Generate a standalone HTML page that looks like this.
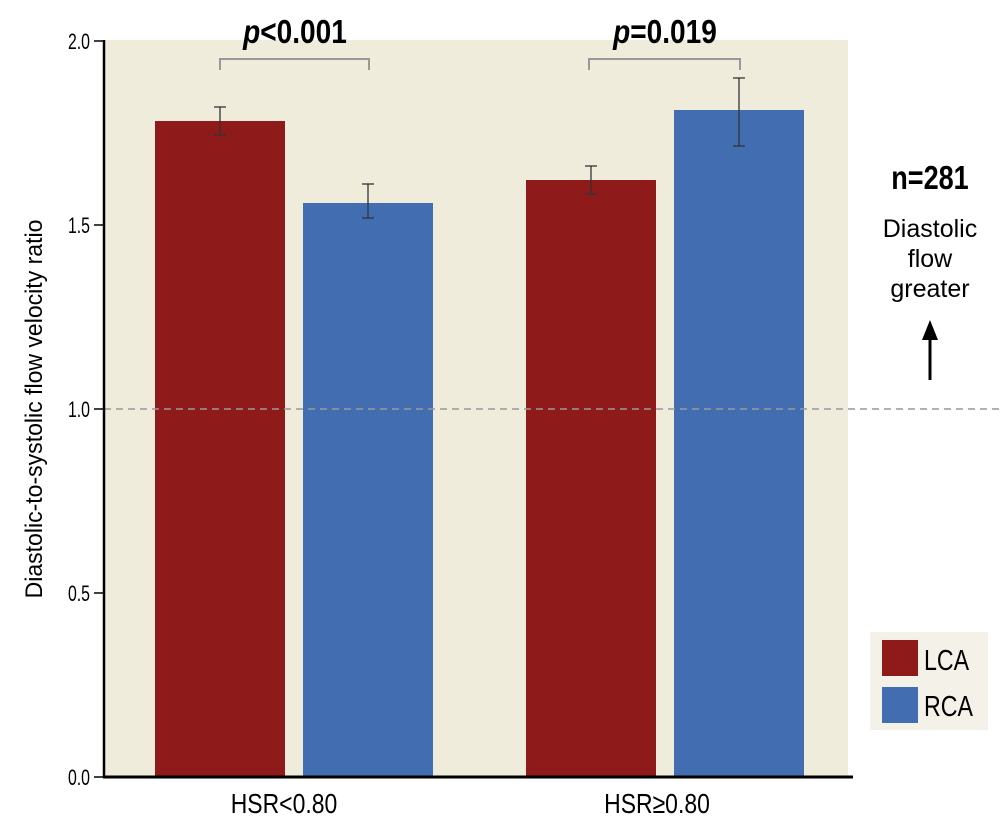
<!DOCTYPE html>
<html><head><style>
body{margin:0;background:#fff;}
svg text{font-family:"Liberation Sans",sans-serif;}
</style></head><body>
<svg width="1005" height="827" viewBox="0 0 1005 827" xmlns="http://www.w3.org/2000/svg">
<rect x="104" y="40" width="744" height="737" fill="#f0ecdc"/>
<rect x="155" y="121" width="130" height="656" fill="#8e1b19"/>
<rect x="303" y="203" width="130" height="574" fill="#426eb1"/>
<rect x="526" y="180" width="130" height="597" fill="#8e1b19"/>
<rect x="674" y="110" width="130" height="667" fill="#426eb1"/>
<line x1="104" y1="409" x2="1000" y2="409" stroke="#999" stroke-width="1.5" stroke-dasharray="7,5"/>
<g stroke="#333" stroke-width="1.3">
<line x1="220" y1="107" x2="220" y2="135"/><line x1="214" y1="107" x2="226" y2="107"/><line x1="214" y1="135" x2="226" y2="135"/>
<line x1="368" y1="184" x2="368" y2="218"/><line x1="362" y1="184" x2="374" y2="184"/><line x1="362" y1="218" x2="374" y2="218"/>
<line x1="591" y1="166" x2="591" y2="194"/><line x1="585" y1="166" x2="597" y2="166"/><line x1="585" y1="194" x2="597" y2="194"/>
<line x1="739" y1="78" x2="739" y2="146"/><line x1="733" y1="78" x2="745" y2="78"/><line x1="733" y1="146" x2="745" y2="146"/>
</g>
<g stroke="#999" stroke-width="2" fill="none">
<path d="M220 70 V59 H369 V70"/>
<path d="M589 70 V59 H740 V70"/>
</g>
<text x="295" y="43" font-size="33" font-weight="bold" text-anchor="middle" transform="translate(295 0) scale(0.85 1) translate(-295 0)"><tspan font-style="italic">p</tspan>&lt;0.001</text>
<text x="665" y="43" font-size="33" font-weight="bold" text-anchor="middle" transform="translate(665 0) scale(0.85 1) translate(-665 0)"><tspan font-style="italic">p</tspan>=0.019</text>
<line x1="104" y1="40" x2="104" y2="778" stroke="#000" stroke-width="2.5"/>
<line x1="103" y1="777" x2="853" y2="777" stroke="#000" stroke-width="3"/>
<g stroke="#000" stroke-width="1.5">
<line x1="94" y1="41" x2="104" y2="41"/><line x1="94" y1="225" x2="104" y2="225"/><line x1="94" y1="409" x2="104" y2="409"/><line x1="94" y1="593" x2="104" y2="593"/><line x1="94" y1="777" x2="104" y2="777"/>
</g>
<g font-size="22" text-anchor="end">
<text x="90" y="49" transform="translate(90 0) scale(0.72 1) translate(-90 0)">2.0</text>
<text x="90" y="233" transform="translate(90 0) scale(0.72 1) translate(-90 0)">1.5</text>
<text x="90" y="417" transform="translate(90 0) scale(0.72 1) translate(-90 0)">1.0</text>
<text x="90" y="601" transform="translate(90 0) scale(0.72 1) translate(-90 0)">0.5</text>
<text x="90" y="785" transform="translate(90 0) scale(0.72 1) translate(-90 0)">0.0</text>
</g>
<text x="0" y="0" font-size="24" text-anchor="middle" transform="translate(42 409) rotate(-90) scale(0.96 1)">Diastolic-to-systolic flow velocity ratio</text>
<g font-size="28" text-anchor="middle">
<text x="284" y="813" transform="translate(284 0) scale(0.82 1) translate(-284 0)">HSR&lt;0.80</text>
<text x="657" y="813" transform="translate(657 0) scale(0.82 1) translate(-657 0)">HSR≥0.80</text>
</g>
<text x="930" y="189" font-size="33" font-weight="bold" text-anchor="middle" transform="translate(930 0) scale(0.82 1) translate(-930 0)">n=281</text>
<g font-size="25" text-anchor="middle">
<text x="930" y="237">Diastolic</text>
<text x="930" y="267">flow</text>
<text x="930" y="297">greater</text>
</g>
<line x1="930" y1="380" x2="930" y2="335" stroke="#000" stroke-width="3"/>
<polygon points="930,320 922,340 938,340" fill="#000"/>
<rect x="870" y="632" width="118" height="98" fill="#f3f1e8"/>
<rect x="882" y="640" width="36" height="36" fill="#8e1b19"/>
<rect x="882" y="687" width="36" height="36" fill="#426eb1"/>
<g font-size="29">
<text x="924" y="670" transform="translate(924 0) scale(0.8 1) translate(-924 0)">LCA</text>
<text x="924" y="716" transform="translate(924 0) scale(0.8 1) translate(-924 0)">RCA</text>
</g>
</svg>
</body></html>
